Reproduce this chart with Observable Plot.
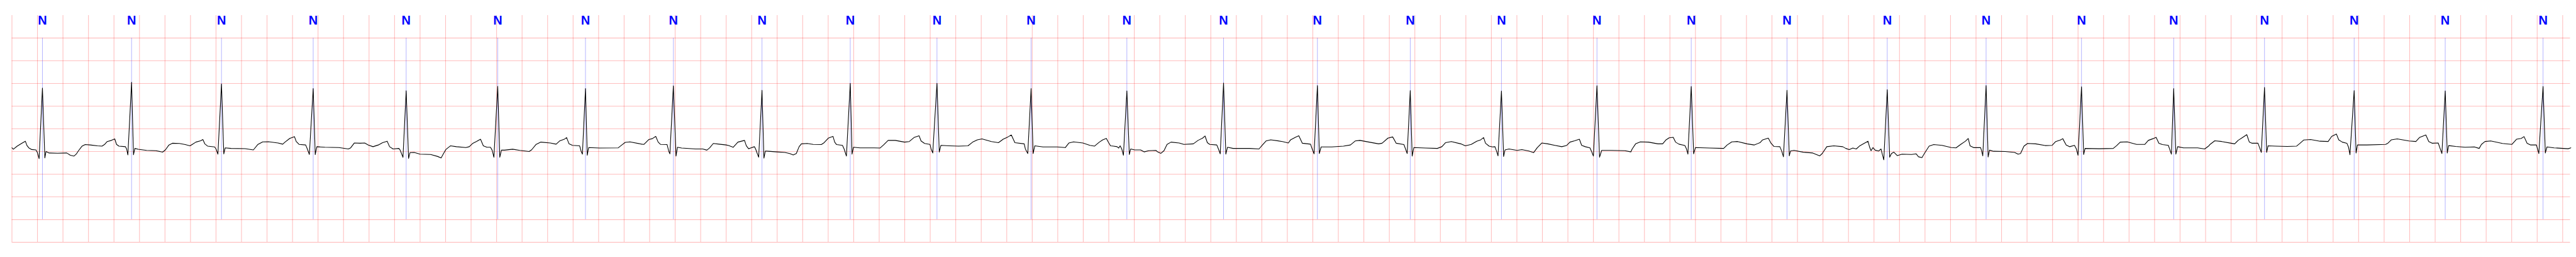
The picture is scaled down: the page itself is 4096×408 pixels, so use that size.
<!DOCTYPE html>
<html><head><meta charset="utf-8">
<script src="https://cdn.jsdelivr.net/npm/d3@7"></script>
<script src="https://cdn.jsdelivr.net/npm/@observablehq/plot@0.6"></script>
<style>html,body{margin:0;padding:0;background:#fff;overflow:hidden}#chart svg{display:block}</style>
</head><body><div id="chart"></div>
<script>
// ECG trace: [time (s), amplitude (mV)]
const ecgPoints = [
[0.000,0.081],[0.011,0.051],[0.041,0.119],[0.077,0.182],[0.105,0.227],[0.118,0.131],[0.132,0.081],[0.155,0.043],[0.188,0.035],[0.199,-0.020],[0.213,-0.157],[0.239,1.399],[0.258,-0.141],[0.267,0.000],[0.292,-0.033],[0.357,-0.038],[0.430,-0.033],[0.458,-0.083],[0.486,-0.101],[0.504,-0.058],[0.522,0.018],[0.550,0.119],[0.574,0.152],[0.614,0.144],[0.670,0.126],[0.706,0.119],[0.725,0.152],[0.747,0.220],[0.780,0.245],[0.806,0.278],[0.820,0.157],[0.839,0.119],[0.890,0.106],[0.899,0.056],[0.909,-0.076],[0.938,1.525],[0.953,-0.071],[0.964,0.068],[0.991,0.048],[1.056,0.025],[1.129,0.018],[1.181,-0.013],[1.203,0.035],[1.231,0.144],[1.258,0.182],[1.313,0.177],[1.359,0.152],[1.396,0.126],[1.414,0.157],[1.442,0.207],[1.479,0.237],[1.497,0.263],[1.512,0.169],[1.534,0.119],[1.589,0.101],[1.600,0.056],[1.615,-0.058],[1.643,1.490],[1.661,-0.053],[1.672,0.081],[1.718,0.068],[1.828,0.063],[1.893,0.035],[1.929,0.157],[1.966,0.212],[2.012,0.215],[2.086,0.187],[2.123,0.162],[2.141,0.207],[2.178,0.288],[2.215,0.328],[2.229,0.220],[2.251,0.157],[2.303,0.144],[2.316,0.056],[2.332,-0.066],[2.362,1.389],[2.378,-0.068],[2.391,0.106],[2.454,0.093],[2.564,0.086],[2.638,0.056],[2.656,0.081],[2.684,0.187],[2.730,0.182],[2.766,0.187],[2.794,0.144],[2.831,0.106],[2.873,0.144],
[2.906,0.194],[2.942,0.227],[2.961,0.106],[2.988,0.056],[3.034,0.068],[3.044,0.030],[3.066,-0.129],[3.091,1.338],[3.110,-0.152],[3.121,-0.025],[3.154,-0.020],[3.200,-0.058],[3.283,-0.066],[3.338,-0.109],[3.365,-0.141],[3.384,-0.045],[3.402,0.043],[3.439,0.126],[3.485,0.106],[3.559,0.086],[3.586,0.106],[3.614,0.182],[3.641,0.220],[3.674,0.270],[3.696,0.126],[3.724,0.093],[3.752,0.093],[3.765,0.030],[3.779,-0.126],[3.809,1.437],[3.825,-0.126],[3.838,0.030],[3.862,0.030],[3.926,0.051],[3.982,0.025],[4.055,0.000],[4.074,0.035],[4.110,0.157],[4.147,0.207],[4.221,0.187],[4.267,0.162],[4.294,0.232],[4.331,0.270],[4.349,0.308],[4.368,0.169],[4.395,0.136],[4.451,0.126],[4.463,0.005],[4.473,-0.058],[4.497,1.386],[4.511,-0.083],[4.522,0.086],[4.607,0.076],[4.754,0.081],[4.782,0.144],[4.809,0.202],[4.846,0.212],[4.938,0.162],[4.956,0.157],[4.993,0.263],[5.021,0.283],[5.048,0.333],[5.067,0.207],[5.085,0.157],[5.137,0.152],[5.150,0.005],[5.159,-0.051],[5.186,1.447],[5.207,-0.101],[5.218,0.093],[5.251,0.076],[5.361,0.056],[5.416,0.056],[5.449,0.030],[5.471,0.081],[5.499,0.177],[5.545,0.162],[5.600,0.144],[5.619,0.131],[5.655,0.093],[5.692,0.207],[5.744,0.245],
[5.758,0.126],[5.776,0.061],[5.795,0.081],[5.822,0.106],[5.831,0.056],[5.844,-0.045],[5.855,-0.126],[5.881,1.348],[5.896,-0.146],[5.907,0.010],[5.932,0.005],[5.997,-0.008],[6.061,-0.020],[6.098,-0.045],[6.126,-0.076],[6.150,-0.045],[6.172,0.106],[6.190,0.169],[6.236,0.177],[6.282,0.157],[6.346,0.152],[6.365,0.187],[6.401,0.295],[6.438,0.333],[6.451,0.207],[6.466,0.152],[6.512,0.136],[6.525,0.056],[6.543,-0.101],[6.573,1.503],[6.587,-0.058],[6.598,0.093],[6.650,0.081],[6.760,0.081],[6.806,0.076],[6.834,0.144],[6.870,0.245],[6.926,0.245],[6.999,0.207],[7.036,0.220],[7.073,0.308],[7.113,0.346],[7.128,0.232],[7.156,0.177],[7.198,0.157],[7.207,0.056],[7.220,-0.033],[7.253,1.503],[7.271,-0.013],[7.284,0.136],[7.349,0.126],[7.422,0.119],[7.496,0.126],[7.533,0.207],[7.570,0.258],[7.606,0.278],[7.680,0.220],[7.735,0.194],[7.772,0.270],[7.809,0.321],[7.836,0.364],[7.864,0.194],[7.937,0.169],[7.946,0.056],[7.965,-0.045],[7.991,1.389],[8.007,-0.045],[8.020,0.126],[8.084,0.101],[8.195,0.101],[8.259,0.086],[8.287,0.187],[8.324,0.212],[8.397,0.187],[8.452,0.136],[8.489,0.119],[8.526,0.207],[8.553,0.258],[8.581,0.288],[8.599,0.194],[8.614,0.126],
[8.637,0.119],[8.665,0.106],[8.678,0.076],[8.689,0.126],[8.702,0.056],[8.715,-0.083],[8.742,1.336],[8.761,-0.066],[8.772,0.056],[8.803,0.035],[8.849,0.035],[8.877,-0.008],[8.913,0.018],[8.969,0.025],[8.987,-0.015],[9.009,-0.040],[9.033,0.018],[9.057,0.157],[9.088,0.207],[9.152,0.187],[9.189,0.157],[9.263,0.169],[9.300,0.245],[9.336,0.295],[9.355,0.341],[9.373,0.194],[9.392,0.157],[9.447,0.144],[9.460,0.056],[9.474,-0.051],[9.500,1.510],[9.518,-0.058],[9.531,0.093],[9.575,0.068],[9.704,0.068],[9.778,0.056],[9.805,0.144],[9.833,0.232],[9.870,0.258],[9.962,0.220],[10.008,0.187],[10.026,0.258],[10.063,0.313],[10.090,0.346],[10.118,0.182],[10.182,0.162],[10.195,0.056],[10.210,-0.051],[10.236,1.452],[10.251,-0.045],[10.265,0.101],[10.348,0.101],[10.440,0.119],[10.495,0.144],[10.532,0.232],[10.569,0.245],[10.642,0.207],[10.716,0.169],[10.743,0.182],[10.789,0.295],[10.826,0.321],[10.854,0.182],[10.914,0.152],[10.927,0.056],[10.940,-0.045],[10.964,1.343],[10.979,-0.101],[10.992,0.086],[11.084,0.076],[11.176,0.068],[11.212,0.106],[11.240,0.194],[11.286,0.220],[11.360,0.169],[11.396,0.126],[11.442,0.157],[11.485,0.227],
[11.517,0.258],[11.539,0.308],[11.554,0.182],[11.582,0.119],[11.609,0.101],[11.628,0.106],[11.641,0.005],[11.652,-0.096],[11.679,1.333],[11.696,-0.109],[11.707,0.035],[11.738,0.056],[11.802,0.025],[11.839,0.043],[11.894,0.010],[11.931,-0.025],[11.959,0.081],[11.995,0.187],[12.042,0.169],[12.097,0.136],[12.152,0.106],[12.189,0.131],[12.216,0.207],[12.253,0.237],[12.290,0.270],[12.308,0.136],[12.336,0.106],[12.373,0.081],[12.385,0.005],[12.400,-0.101],[12.428,1.449],[12.448,-0.126],[12.465,0.025],[12.538,0.025],[12.648,0.018],[12.694,-0.008],[12.704,0.056],[12.731,0.169],[12.768,0.212],[12.832,0.207],[12.906,0.169],[12.943,0.169],[12.970,0.258],[12.994,0.303],[13.026,0.313],[13.044,0.207],[13.071,0.162],[13.117,0.131],[13.130,0.056],[13.141,-0.058],[13.167,1.432],[13.186,-0.051],[13.200,0.086],[13.311,0.076],[13.421,0.068],[13.449,0.144],[13.485,0.212],[13.531,0.220],[13.605,0.169],[13.660,0.144],[13.706,0.194],[13.725,0.253],[13.771,0.295],[13.793,0.182],[13.816,0.111],[13.862,0.106],[13.877,0.005],[13.890,-0.116],[13.918,1.348],[13.936,-0.096],[13.945,0.010],[13.973,0.025],[14.046,-0.015],[14.120,-0.033],[14.175,-0.096],[14.194,-0.045],[14.230,0.106],[14.285,0.126],[14.355,0.106],
[14.379,0.068],[14.406,0.043],[14.434,0.076],[14.461,0.056],[14.489,0.126],[14.517,0.169],[14.553,0.227],[14.566,0.093],[14.577,0.018],[14.592,0.086],[14.609,0.030],[14.636,0.010],[14.655,0.056],[14.664,-0.045],[14.677,-0.184],[14.704,1.364],[14.723,-0.126],[14.737,-0.045],[14.756,-0.015],[14.783,-0.091],[14.820,-0.058],[14.894,-0.066],[14.930,-0.051],[14.949,-0.116],[14.976,-0.134],[14.995,-0.045],[15.032,0.119],[15.068,0.152],[15.133,0.136],[15.206,0.086],[15.243,0.081],[15.280,0.157],[15.317,0.227],[15.339,0.288],[15.353,0.126],[15.381,0.086],[15.436,0.086],[15.445,0.005],[15.453,-0.096],[15.479,1.455],[15.495,-0.121],[15.506,0.030],[15.537,0.005],[15.629,0.000],[15.703,-0.020],[15.730,-0.058],[15.749,-0.045],[15.776,0.119],[15.804,0.177],[15.868,0.169],[15.942,0.131],[15.997,0.136],[16.025,0.220],[16.062,0.253],[16.080,0.283],[16.107,0.144],[16.135,0.106],[16.172,0.136],[16.187,0.056],[16.200,-0.083],[16.227,1.427],[16.244,-0.066],[16.255,0.068],[16.365,0.061],[16.476,0.068],[16.503,0.131],[16.531,0.207],[16.586,0.212],[16.659,0.157],[16.724,0.157],[16.751,0.245],[16.788,0.283],[16.812,0.313],[16.834,0.182],[16.862,0.152],[16.908,0.136],[16.921,0.030],[16.932,-0.058],[16.950,1.386],[16.967,-0.058],[16.981,0.106],[17.027,0.081],[17.138,0.081],[17.193,0.056],[17.226,0.126],
[17.235,0.157],[17.272,0.237],[17.327,0.220],[17.400,0.182],[17.428,0.169],[17.455,0.245],[17.492,0.313],[17.523,0.371],[17.543,0.207],[17.565,0.182],[17.611,0.182],[17.624,0.081],[17.637,-0.020],[17.662,1.412],[17.679,-0.020],[17.690,0.126],[17.749,0.119],[17.840,0.111],[17.914,0.119],[17.941,0.182],[17.969,0.253],[18.024,0.263],[18.097,0.227],[18.161,0.220],[18.189,0.333],[18.226,0.384],[18.244,0.258],[18.272,0.207],[18.308,0.182],[18.321,0.093],[18.332,-0.071],[18.365,1.343],[18.380,-0.033],[18.391,0.144],[18.464,0.144],[18.611,0.157],[18.629,0.182],[18.657,0.258],[18.703,0.278],[18.794,0.232],[18.849,0.220],[18.877,0.308],[18.927,0.364],[18.950,0.220],[18.978,0.182],[19.024,0.187],[19.037,0.081],[19.053,-0.045],[19.079,1.336],[19.095,-0.033],[19.106,0.131],[19.161,0.111],[19.235,0.093],[19.308,0.101],[19.345,0.068],[19.363,0.157],[19.391,0.220],[19.436,0.232],[19.528,0.177],[19.602,0.157],[19.638,0.270],[19.675,0.288],[19.697,0.328],[19.721,0.182],[19.749,0.144],[19.794,0.144],[19.803,0.056],[19.813,-0.045],[19.846,1.432],[19.864,-0.033],[19.877,0.101],[19.932,0.081],[20.005,0.068],[20.042,0.061],[20.064,0.081]
];

// Beat annotations (R-peak times, s) and their symbols
const beatTimes = [0.239,0.938,1.643,2.362,3.091,3.809,4.497,5.186,5.881,6.573,7.253,7.991,8.742,9.500,10.236,10.964,11.679,12.428,13.167,13.918,14.704,15.479,16.227,16.950,17.662,18.365,19.079,19.846];
const beatLabels = ["N","N","N","N","N","N","N","N","N","N","N","N","N","N","N","N","N","N","N","N","N","N","N","N","N","N","N","N"];

// Grid ticks
const gridSeconds = d3.range(0, 101).map(i => +(i * 0.2).toFixed(1));
const gridMv = [-2, -1.5, -1, -0.5, 0, 0.5, 1, 1.5, 2, 2.5];

const ecg = ecgPoints.map(([t, v]) => ({t, v}));
const beats = beatTimes.map((t, i) => ({t, label: beatLabels[i]}));

const chart = Plot.plot({
  width: 4096,
  height: 408,
  marginLeft: 18.5,
  marginRight: 9.5,
  marginTop: 23.9,
  marginBottom: 23.9,
  x: {domain: [0, 20.06], axis: null},
  y: {domain: [-2, 3], axis: null},
  style: {background: "#fff"},
  marks: [
    Plot.gridX(gridSeconds, {stroke: "red", strokeOpacity: 0.25, strokeWidth: 1.1}),
    Plot.gridY(gridMv, {stroke: "red", strokeOpacity: 0.25, strokeWidth: 1.1}),
    Plot.ruleX(beats, {x: "t", y1: -1.5, y2: 2.5, stroke: "blue", strokeOpacity: 0.5, strokeWidth: 0.6}),
    Plot.line(ecg, {x: "t", y: "v", stroke: "black", strokeWidth: 1.1, strokeLinejoin: "round"}),
    Plot.text(beats, {x: "t", y: 3, text: "label", fill: "blue", fontSize: 20, fontWeight: "bold",
      fontFamily: "'Liberation Sans', Arial, sans-serif", lineAnchor: "top", textAnchor: "middle"})
  ]
});
document.getElementById("chart").appendChild(chart);
</script>
</body></html>
